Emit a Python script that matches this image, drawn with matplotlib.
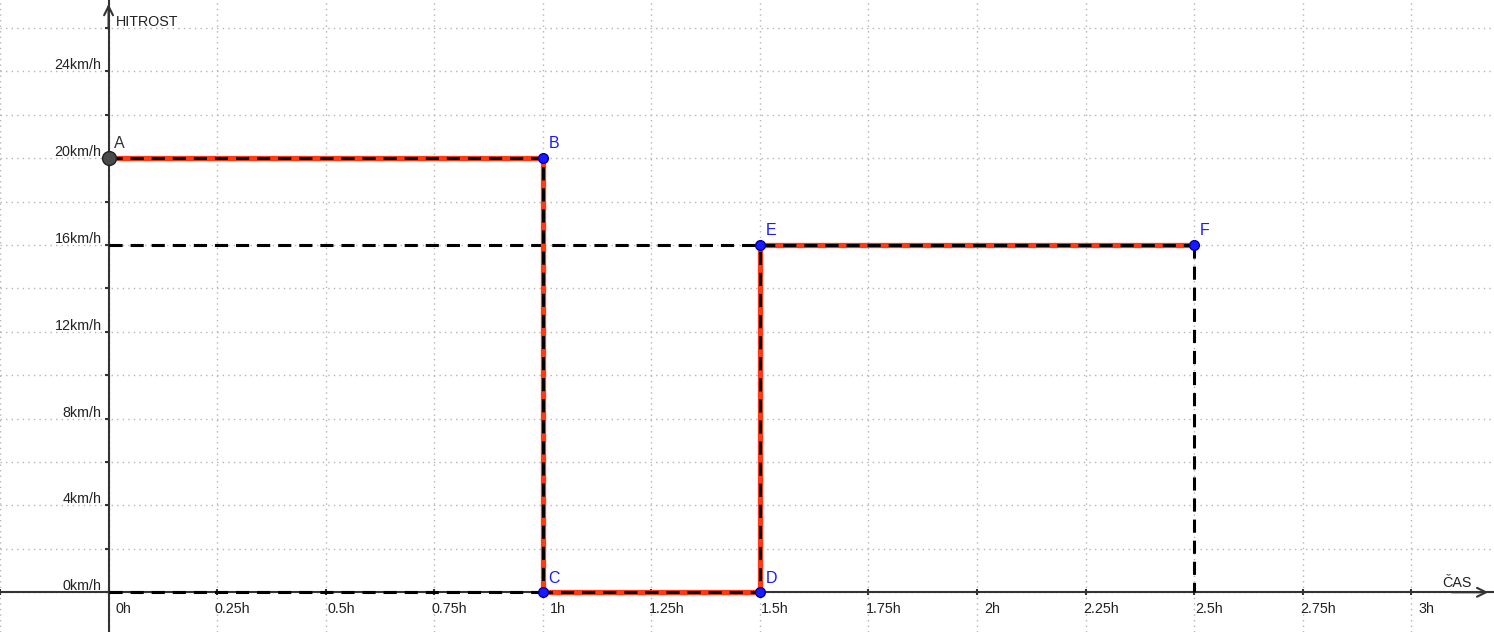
import matplotlib
matplotlib.use('Agg')
import matplotlib.pyplot as plt
import numpy as np

plt.rcParams['font.family'] = ['Liberation Sans', 'DejaVu Sans']

# ---- data ----
point_names = ['A', 'B', 'C', 'D', 'E', 'F']
point_t = [0, 1, 1, 1.5, 1.5, 2.5]          # hours
point_v = [20, 20, 0, 0, 16, 16]            # km/h

# helper (projection) dashed lines
helper_t = [[0, 1.5], [0, 1], [2.5, 2.5]]
helper_v = [[16, 16], [0, 0], [16, 0]]

t_ticks = [0, 0.25, 0.5, 0.75, 1, 1.25, 1.5, 1.75, 2, 2.25, 2.5, 2.75, 3]
t_labels = ['0h', '0.25h', '0.5h', '0.75h', '1h', '1.25h', '1.5h', '1.75h',
            '2h', '2.25h', '2.5h', '2.75h', '3h']
v_ticks = [0, 4, 8, 12, 16, 20, 24]
v_labels = ['0km/h', '4km/h', '8km/h', '12km/h', '16km/h', '20km/h', '24km/h']
grid_t = [-0.25] + t_ticks
grid_v = [0, 2, 4, 6, 8, 10, 12, 14, 16, 18, 20, 22, 24, 26]

x_title = 'ČAS'
y_title = 'HITROST'

# ---- style ----
RED = '#ff3a14'
BLUE = '#1a1aff'
AXC = '#333333'
TXT = '#222222'
FS = 10.3

fig = plt.figure(figsize=(14.94, 6.32), dpi=100)
ax = fig.add_axes([0, 0, 1, 1])
ax.set_xlim(-0.2474, 3.1908)
ax.set_ylim(-1.83, 27.29)

ax.set_xticks(grid_t)
ax.set_yticks(grid_v)
ax.tick_params(labelbottom=False, labelleft=False)
ax.tick_params(axis='x', direction='inout', length=5, width=1.5, color=AXC)
ax.tick_params(axis='y', direction='out', length=3, width=1.5, color=AXC)
ax.grid(True, color='#b4b4b4', linestyle=(0, (1, 3)), linewidth=1.0)
ax.set_axisbelow(True)

for s in ['top', 'right']:
    ax.spines[s].set_visible(False)
ax.spines['left'].set_position(('data', 0))
ax.spines['bottom'].set_position(('data', 0))
for s in ['left', 'bottom']:
    ax.spines[s].set_color(AXC)
    ax.spines[s].set_linewidth(1.5)

# axis arrows
ax.annotate('', xy=(0, 0.998), xycoords=('data', 'axes fraction'),
            xytext=(0, 0.95), textcoords=('data', 'axes fraction'),
            arrowprops=dict(arrowstyle='->', color=AXC, lw=1.5, mutation_scale=16))
ax.annotate('', xy=(0.998, 0), xycoords=('axes fraction', 'data'),
            xytext=(0.97, 0), textcoords=('axes fraction', 'data'),
            arrowprops=dict(arrowstyle='->', color=AXC, lw=1.5, mutation_scale=16))

# helper dashed lines
for ht, hv in zip(helper_t, helper_v):
    ax.plot(ht, hv, color='black', lw=2.2, dashes=(4.3, 2.6), zorder=3)

# main path: red + black dashed
ax.plot(point_t, point_v, color=RED, lw=3.8, solid_capstyle='butt', zorder=4)
ax.plot(point_t, point_v, color='black', lw=2.2, dashes=(4.3, 2.6), zorder=5)

# points
ax.plot(point_t[1:], point_v[1:], 'o', ms=7, mfc=BLUE, mec='#0000a0', mew=1, zorder=6)
ax.plot(point_t[:1], point_v[:1], 'o', ms=10, mfc='#4a4a4a', mec='#222222', mew=1, zorder=6)

for name, t, v in zip(point_names, point_t, point_v):
    col = AXC if name == 'A' else BLUE
    ax.annotate(name, xy=(t, v), xytext=(4, 7), textcoords='offset points',
                ha='left', va='baseline', fontsize=11.5, color=col, zorder=7)

# tick labels
for t, lab in zip(t_ticks, t_labels):
    ax.annotate(lab, xy=(t, 0), xytext=(11, -15), textcoords='offset points',
                ha='center', va='baseline', fontsize=FS, color=TXT)
for v, lab in zip(v_ticks, v_labels):
    ax.annotate(lab, xy=(0, v), xytext=(-5, 1.5), textcoords='offset points',
                ha='right', va='baseline', fontsize=FS, color=TXT)

# axis titles
ax.annotate(y_title, xy=(0, 1), xycoords=('data', 'axes fraction'),
            xytext=(5, -18.5), textcoords='offset points',
            ha='left', va='baseline', fontsize=FS, color=TXT)
ax.annotate(x_title, xy=(1, 0), xycoords=('axes fraction', 'data'),
            xytext=(-16, 3.6), textcoords='offset points',
            ha='right', va='baseline', fontsize=FS, color=TXT)

fig.savefig('out.png', dpi=100)
